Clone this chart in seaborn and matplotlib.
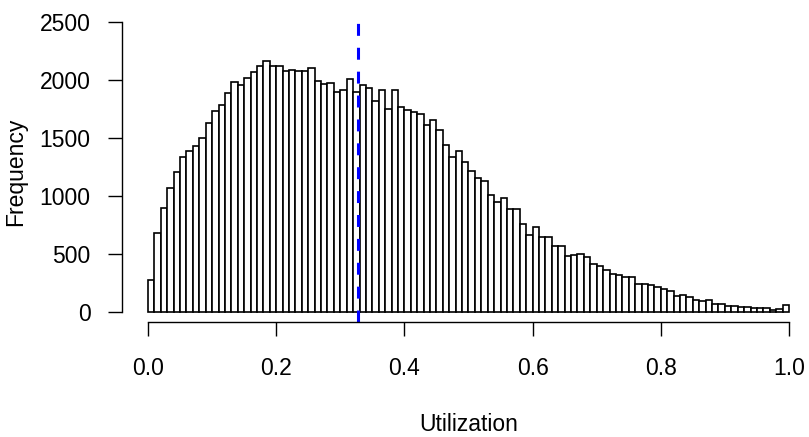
import numpy as np
import pandas as pd
import matplotlib
matplotlib.use("Agg")
import matplotlib.pyplot as plt
import seaborn as sns

# ---- data (100 bins of width 0.01 on [0, 1]) ----
bin_width = 0.01
counts = [275, 678, 894, 1066, 1204, 1334, 1390, 1431, 1500, 1632,
          1735, 1781, 1890, 1983, 1960, 2017, 2069, 2123, 2165, 2118,
          2123, 2075, 2089, 2080, 2080, 2106, 1994, 1963, 1977, 1896,
          1916, 2011, 1899, 1957, 1928, 1821, 1911, 1747, 1916, 1770,
          1741, 1724, 1704, 1612, 1655, 1569, 1442, 1339, 1388, 1296,
          1215, 1152, 1132, 1006, 945, 985, 891, 891, 756, 667,
          730, 649, 649, 572, 566, 480, 491, 497, 477, 411,
          399, 362, 330, 319, 305, 302, 239, 239, 230, 218,
          198, 181, 138, 144, 129, 101, 92, 101, 72, 72,
          52, 52, 46, 43, 37, 32, 32, 20, 29, 60]
mean_util = 0.328
x_ticks = [0.0, 0.2, 0.4, 0.6, 0.8, 1.0]
x_tick_labels = ["0.0", "0.2", "0.4", "0.6", "0.8", "1.0"]
y_ticks = [0, 500, 1000, 1500, 2000, 2500]
y_tick_labels = ["0", "500", "1000", "1500", "2000", "2500"]
x_label = "Utilization"
y_label = "Frequency"

n_bins = len(counts)
centers = np.arange(n_bins) * bin_width + bin_width / 2
df = pd.DataFrame({"util": centers, "count": counts})

# ---- styling ----
sns.set_style("ticks")
plt.rcParams['font.family'] = ['Liberation Sans', 'DejaVu Sans']
plt.rcParams['lines.scale_dashes'] = False
plt.rcParams['text.color'] = 'black'
plt.rcParams['axes.labelcolor'] = 'black'
plt.rcParams['xtick.color'] = 'black'
plt.rcParams['ytick.color'] = 'black'
FS = 16.5

W, H = 809, 437
fig = plt.figure(figsize=(W / 100, H / 100), dpi=100)
# pixel layout: x data 0 -> 148px, 1 -> 789px; y data 0 -> 312px, 2500 -> 22px
px_per_x = 641.0
px_per_y = 290.0 / 2500
left_px = 148 - 0.04 * px_per_x
right_px = 789 + 0.04 * px_per_x
bottom_px = 322
top_px = 21
ax = fig.add_axes([left_px / W, 1 - bottom_px / H,
                   (right_px - left_px) / W, (bottom_px - top_px) / H])

sns.histplot(data=df, x="util", weights="count", binwidth=bin_width,
             binrange=(0, 1), stat="count",
             color="white", edgecolor="black", linewidth=1.2, alpha=1,
             ax=ax)

ax.set_xlim(-0.04, 1.04)
ax.set_ylim(-(bottom_px - 312) / px_per_y, (312 - top_px) / px_per_y)

ax.axvline(mean_util, color="#0000FF", lw=2.2, ls=(0, (8.6, 8.6)))

for s in ["top", "right"]:
    ax.spines[s].set_visible(False)
ax.spines["left"].set_bounds(0, 2500)
ax.spines["bottom"].set_bounds(0, 1)
for s in ["left", "bottom"]:
    ax.spines[s].set_linewidth(1.0)
    ax.spines[s].set_color("black")

ax.set_xticks(x_ticks)
ax.set_xticklabels(x_tick_labels, fontsize=FS, color="black")
ax.set_yticks(y_ticks)
ax.set_yticklabels(y_tick_labels, fontsize=FS, color="black")
ax.tick_params(axis="both", direction="out", length=10, width=1.0,
               color="black", labelcolor="black")
ax.tick_params(axis="y", pad=13)
ax.tick_params(axis="x", pad=15)

ax.set_xlabel(x_label, fontsize=FS, labelpad=24, color="black")
ax.set_ylabel(y_label, fontsize=FS, labelpad=9, color="black")

fig.savefig("out.png", dpi=100)
